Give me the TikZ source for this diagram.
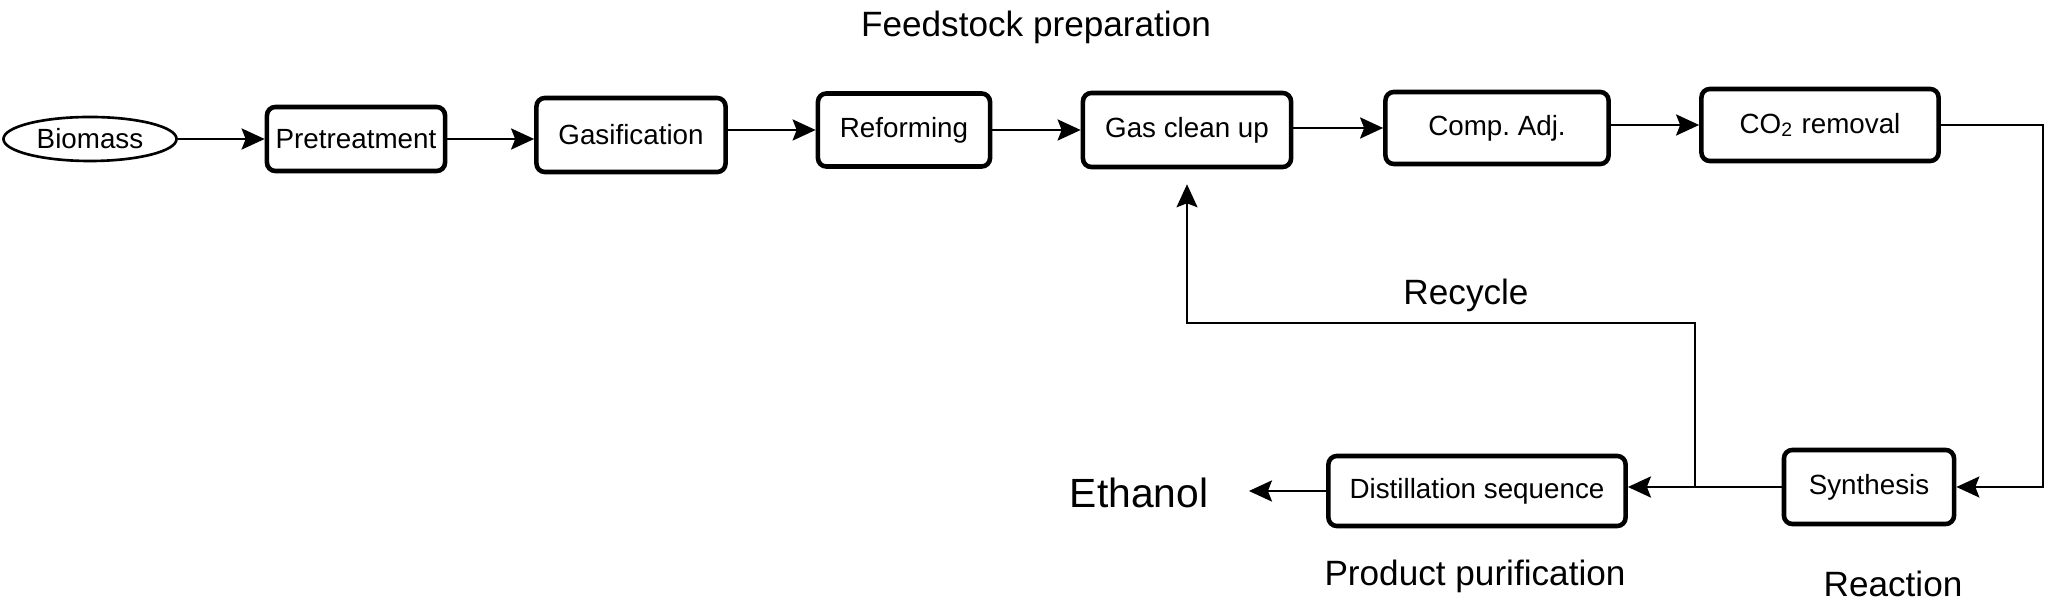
\documentclass[tikz,border=0pt]{standalone}
\usepackage{fontspec}
\setmainfont{Liberation Sans}
\usetikzlibrary{arrows.meta,shapes.geometric,positioning}
\newcommand{\boxfont}{\fontsize{7.9}{9.5}\selectfont}
\newcommand{\tagfont}{\fontsize{10}{12}\selectfont}
\newcommand{\bigfont}{\fontsize{11.6}{14}\selectfont}
\tikzset{
 every node/.append style={font=\boxfont,text=black,align=center},
 box/.style={draw,rounded corners=2.4pt,line width=1.3pt,inner sep=2pt},
 feed/.style={draw,ellipse,line width=.75pt,inner sep=0pt},
 word/.style={font=\tagfont,inner sep=0pt,anchor=base},
 flow/.style={-{Stealth[length=2.3mm,width=2.1mm,inset=.4mm]},line width=.8pt},
 route/.style={line width=.5pt},
}

\begin{document}
\begin{tikzpicture}[x=.01cm,y=-.01cm]

\useasboundingbox (0,0) rectangle (2048,601);
\node[feed,minimum width=1.73cm,minimum height=.44cm] (bio) at (90,139) {Biomass};
\node[box,minimum width=1.78cm,minimum height=.64cm] (pre) at (356,139) {Pretreatment};
\node[box,minimum width=1.89cm,minimum height=.74cm] (gas) at (631,135) {Gasification};
\node[box,minimum width=1.72cm,minimum height=.73cm] (ref) at (904,130) {Reforming};
\node[box,minimum width=2.08cm,minimum height=.74cm] (clean) at (1187,130) {Gas clean up};
\node[box,minimum width=2.23cm,minimum height=.72cm] (comp) at (1497,128) {Comp.\ Adj.};
\node[box,minimum width=2.37cm,minimum height=.72cm] (co2) at (1820,125) {CO\textsubscript{2} removal};
\node[box,minimum width=1.70cm,minimum height=.74cm] (syn) at (1869,487) {Synthesis};
\node[box,minimum width=2.97cm,minimum height=.70cm] (dist) at (1477,491) {Distillation sequence};
\node[font=\bigfont,inner sep=0pt] (eth) at (1139,493) {Ethanol};
\node[word] (feedlbl) at (1036,37) {Feedstock preparation};
\node[word] (reclbl) at (1466,305) {Recycle};
\node[word] (purlbl) at (1475,586) {Product purification};
\node[word] (reaclbl) at (1893,597) {Reaction};
\coordinate (split) at (1695,487);
\coordinate (bend) at (1187,323);
\draw[flow] (bio.east) -- (pre.west);
\draw[flow] (pre.east) -- (pre.east -| gas.west);
\draw[flow] (gas.east |- ref.west) -- (ref.west);
\draw[flow] (ref.east) -- (ref.east -| clean.west);
\draw[flow] (clean.east |- comp.west) -- (comp.west);
\draw[flow] (comp.east |- co2.west) -- (co2.west);
\draw[flow,route] (co2.east) -- (2043,125) |- (syn.east);
\draw[flow] (syn.west) -- (syn.west -| dist.east);
\draw[flow,route] (split) |- (bend) -- ([yshift=-.15cm]clean.south);
\draw[flow] (dist.west) -- ([xshift=.4cm]eth.east |- dist.west);

\end{tikzpicture}
\end{document}
